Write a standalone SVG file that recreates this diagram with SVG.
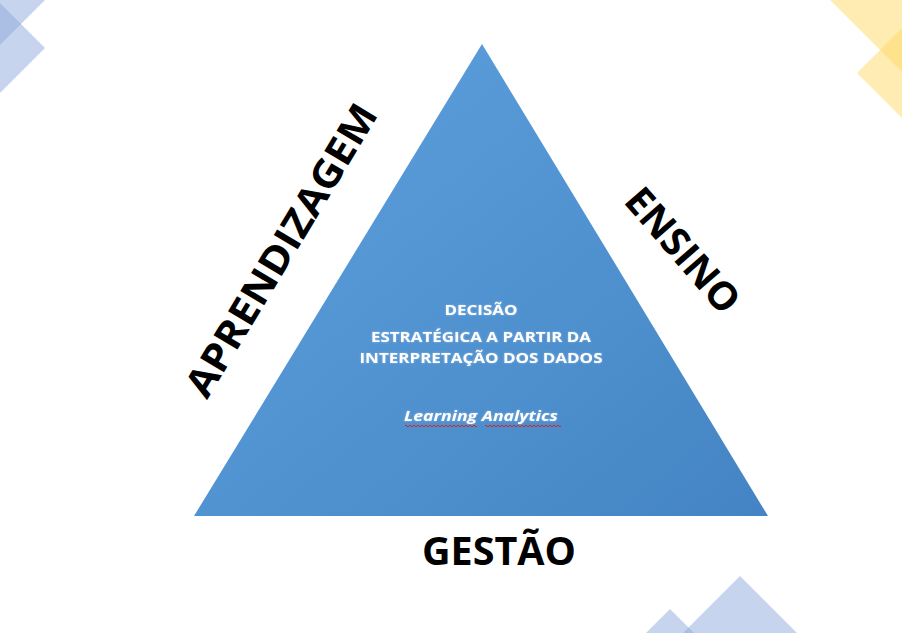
<svg xmlns="http://www.w3.org/2000/svg" width="902" height="633" viewBox="0 0 902 633">
<style>
.big{font-family:"Open Sans","Liberation Sans",sans-serif;font-weight:700;font-size:39px;fill:#000;text-anchor:middle}
.inner{font-family:"Open Sans","Liberation Sans",sans-serif;font-weight:700;font-size:15px;fill:#fff;text-anchor:middle}
.blue{fill:#8faadc;opacity:0.5}
.gold{fill:#ffd966;opacity:0.5}
.squig{fill:none;stroke:#e02020;stroke-width:1}
</style>
<defs>
<linearGradient id="tri" x1="0" y1="0" x2="1" y2="1">
<stop offset="0" stop-color="#5fa2de"/>
<stop offset="1" stop-color="#4484c4"/>
</linearGradient>
<filter id="glow" x="-10%" y="-30%" width="120%" height="160%">
<feGaussianBlur in="SourceAlpha" stdDeviation="1.2" result="b"/>
<feFlood flood-color="#ffffff" flood-opacity="0.35"/>
<feComposite in2="b" operator="in" result="g"/>
<feMerge><feMergeNode in="g"/><feMergeNode in="SourceGraphic"/></feMerge>
</filter>
</defs>
<rect width="902" height="633" fill="#ffffff"/>
<g id="decor">
<polygon class="blue" points="-50,0 0,45 45,0 0,-45"/>
<polygon class="blue" points="0,3 45,48 0,93 -45,48"/>
<polygon class="gold" points="830,0 880,50 960,130 980,0"/>
<polygon class="gold" points="857,73 902,28 947,73 902,118"/>
<polygon class="blue" points="740,576 797,633 740,690 683,633"/>
<polygon class="blue" points="670,609 694,633 670,657 646,633"/>
</g>
<g id="triangle">
<polygon points="482,44 768,516 194,516" fill="url(#tri)"/>
<g filter="url(#glow)">
<text class="inner" x="481" y="315" textLength="73" lengthAdjust="spacingAndGlyphs">DECISÃO</text>
<text class="inner" x="481" y="342" textLength="220" lengthAdjust="spacingAndGlyphs">ESTRATÉGICA A PARTIR DA</text>
<text class="inner" x="481" y="363" textLength="243" lengthAdjust="spacingAndGlyphs">INTERPRETAÇÃO DOS DADOS</text>
<text class="inner" x="481" y="421" font-style="italic" textLength="154" lengthAdjust="spacingAndGlyphs">Learning Analytics</text>
</g>
<path class="squig" d="M405,426 q1,-2 2,0 t2,0 t2,0 t2,0 t2,0 t2,0 t2,0 t2,0 t2,0 t2,0 t2,0 t2,0 t2,0 t2,0 t2,0 t2,0 t2,0 t2,0 t2,0 t2,0 t2,0 t2,0 t2,0 t2,0 t2,0 t2,0 t2,0 t2,0 t2,0 t2,0 t2,0 t2,0 t2,0 t2,0 t2,0 t2,0"/>
<path class="squig" d="M485,426 q1,-2 2,0 t2,0 t2,0 t2,0 t2,0 t2,0 t2,0 t2,0 t2,0 t2,0 t2,0 t2,0 t2,0 t2,0 t2,0 t2,0 t2,0 t2,0 t2,0 t2,0 t2,0 t2,0 t2,0 t2,0 t2,0 t2,0 t2,0 t2,0 t2,0 t2,0 t2,0 t2,0 t2,0 t2,0 t2,0 t2,0 t2,0 t2,0"/>
</g>
<g id="aprendizagem">
<text class="big" transform="translate(281,250) rotate(-59)" x="0" y="14" textLength="334" lengthAdjust="spacingAndGlyphs">APRENDIZAGEM</text>
</g>
<g id="ensino">
<text class="big" transform="translate(683,250) rotate(49)" x="0" y="14" textLength="152" lengthAdjust="spacingAndGlyphs">ENSINO</text>
</g>
<g id="gestao">
<text class="big" x="499" y="565" textLength="154" lengthAdjust="spacingAndGlyphs">GESTÃO</text>
</g>
<g id="connectors"></g>
</svg>
